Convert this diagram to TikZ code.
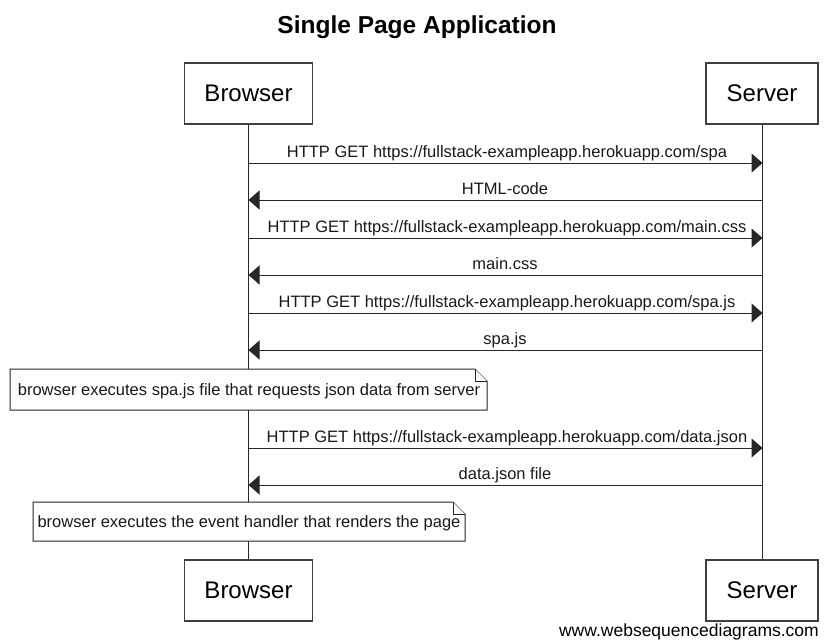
\documentclass[tikz,border=0pt]{standalone}
\usepackage{fontspec}
\setmainfont{Liberation Sans}
\usetikzlibrary{arrows.meta}
\begin{document}
\begin{tikzpicture}[x=1pt,y=-1pt,
  actor/.style={draw=black!75,line width=1.2pt,fill=white,minimum height=61pt,inner sep=0pt,font=\fontsize{24}{28}\selectfont},
  lifeline/.style={draw=black!85,line width=1pt},
  msg/.style={draw=black!85,line width=1pt,-{Triangle[length=11pt,width=19pt]}},
  lbl/.style={font=\fontsize{16.5}{18}\selectfont,text=black!90,inner sep=0pt,anchor=base},
  notebox/.style={draw=black!85,line width=1pt,fill=white},
  notetext/.style={font=\fontsize{16.5}{18}\selectfont,text=black!90,inner sep=0pt,anchor=base}]
\useasboundingbox (0,0) rectangle (832,643);
\node[font=\bfseries\fontsize{24.5}{28}\selectfont,anchor=base,inner sep=0pt] (title) at (417,33) {Single Page Application};
% actors
\node[actor,minimum width=128pt] (bt) at (248.5,93.5) {Browser};
\node[actor,minimum width=112pt] (st) at (762,93.5) {Server};
\node[actor,minimum width=128pt] (bb) at (248.5,590.5) {Browser};
\node[actor,minimum width=112pt] (sb) at (762,590.5) {Server};
\draw[lifeline] (bt.south) -- (bb.north);
\draw[lifeline] (st.south) -- (sb.north);
% message coordinates
\foreach \n/\y in {1/163,2/200,3/238,4/275,5/313,6/350,7/448,8/485}{
  \coordinate (b\n) at (248.5,\y);
  \coordinate (s\n) at (762.5,\y);
}
\draw[msg] (b1) -- (s1);
\node[lbl] (l1) at (507,157) {HTTP GET https://fullstack-exampleapp.herokuapp.com/spa};
\draw[msg] (s2) -- (b2);
\node[lbl] (l2) at (505,194) {HTML-code};
\draw[msg] (b3) -- (s3);
\node[lbl] (l3) at (507,232) {HTTP GET https://fullstack-exampleapp.herokuapp.com/main.css};
\draw[msg] (s4) -- (b4);
\node[lbl] (l4) at (505,269) {main.css};
\draw[msg] (b5) -- (s5);
\node[lbl] (l5) at (507,307) {HTTP GET https://fullstack-exampleapp.herokuapp.com/spa.js};
\draw[msg] (s6) -- (b6);
\node[lbl] (l6) at (505,344) {spa.js};
\draw[msg] (b7) -- (s7);
\node[lbl] (l7) at (507,442) {HTTP GET https://fullstack-exampleapp.herokuapp.com/data.json};
\draw[msg] (s8) -- (b8);
\node[lbl] (l8) at (505,479) {data.json file};
% notes
\draw[notebox] (10,369) -- (475,369) -- (487,381) -- (487,410) -- (10,410) -- cycle;
\draw[notebox] (475,369) -- (475,381) -- (487,381);
\node[notetext] (n1) at (249,395) {browser executes spa.js file that requests json data from server};
\draw[notebox] (33,502) -- (453,502) -- (465,514) -- (465,541) -- (33,541) -- cycle;
\draw[notebox] (453,502) -- (453,514) -- (465,514);
\node[notetext] (n2) at (249,527) {browser executes the event handler that renders the page};
\node[font=\fontsize{17.5}{20}\selectfont,anchor=base east,inner sep=0pt] (wm) at (819,636) {www.websequencediagrams.com};
\end{tikzpicture}
\end{document}
